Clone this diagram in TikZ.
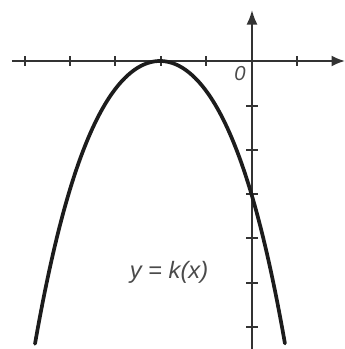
\documentclass[tikz,border=0pt]{standalone}
\usepackage{fontspec}
\setmainfont{Liberation Sans}
\usetikzlibrary{arrows.meta}
\definecolor{axisgray}{HTML}{333333}
\definecolor{curveblack}{HTML}{1C1C1C}
\definecolor{labelgray}{HTML}{4A4A4A}
\begin{document}
\begin{tikzpicture}[x=0.02cm,y=-0.02cm,
  axis/.style={line width=1.1pt, draw=axisgray},
  tickmark/.style={line width=1pt, draw=axisgray},
  curve/.style={line width=2.1pt, draw=curveblack, line cap=round},
  lbl/.style={text=labelgray, inner sep=0pt}]
\useasboundingbox (0,0) rectangle (345,349);
% axes
\coordinate (xl) at (12,61);
\coordinate (xr) at (345,61);
\coordinate (yt) at (252,10);
\coordinate (yb) at (252,349);
\draw[axis, -{Latex[length=0.27cm,width=0.22cm]}] (xl) -- (xr);
\draw[axis, -{Latex[length=0.29cm,width=0.22cm]}] (yb) -- (yt);
% ticks
\foreach \t in {25,70,115,161,206,297}
  \draw[tickmark] (\t,56) -- (\t,66);
\foreach \t in {106,150,194,238,283,327}
  \draw[tickmark] (246,\t) -- (258,\t);
% curve
\draw[curve] plot[domain=-1.25:1.25, samples=101, smooth, variable=\u]
  ({160+100*\u}, {61+134.1*\u*\u+30*\u*\u*\u*\u});
% labels
\node[lbl, font=\itshape\fontsize{11.5}{13}\selectfont] (zero) at (240,74) {0};
\node[lbl, anchor=base, font=\itshape\fontsize{13.5}{15}\selectfont] (klabel) at (169,278) {y = k(x)};
\end{tikzpicture}
\end{document}
